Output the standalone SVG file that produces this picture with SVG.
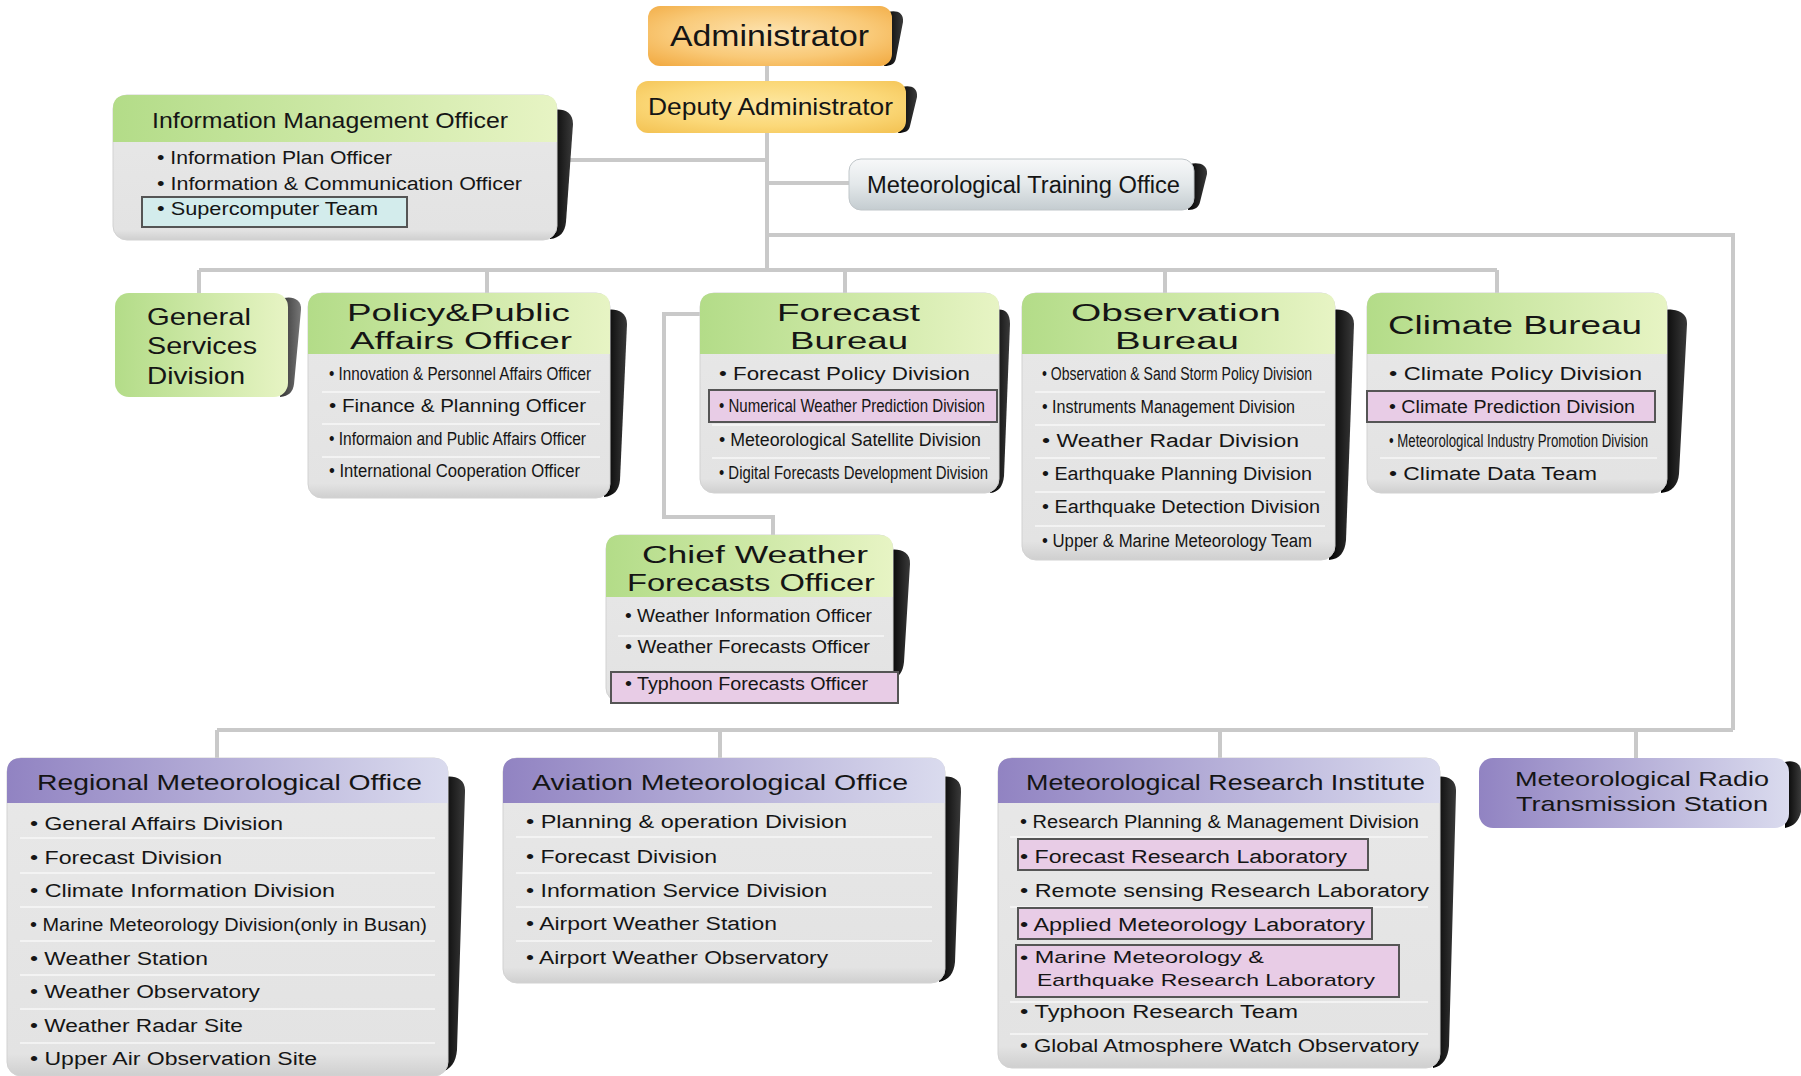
<svg xmlns="http://www.w3.org/2000/svg" width="1801" height="1076" viewBox="0 0 1801 1076">
<defs>
<linearGradient id="gh" x1="0" y1="0" x2="1" y2="0"><stop offset="0" stop-color="#b3dc88"/><stop offset="1" stop-color="#e7f4c4"/></linearGradient>
<linearGradient id="ph" x1="0" y1="0" x2="1" y2="0"><stop offset="0" stop-color="#9183c2"/><stop offset="1" stop-color="#dadbee"/></linearGradient>
<linearGradient id="bg" x1="0" y1="0" x2="0" y2="1"><stop offset="0" stop-color="#e8e8e8"/><stop offset="0.93" stop-color="#e3e3e3"/><stop offset="1" stop-color="#cfcfcf"/></linearGradient>
<radialGradient id="ag" cx="0.5" cy="0.45" r="0.7"><stop offset="0" stop-color="#fde3b0"/><stop offset="0.6" stop-color="#f9c977"/><stop offset="1" stop-color="#f2ac45"/></radialGradient>
<radialGradient id="dg" cx="0.5" cy="0.45" r="0.7"><stop offset="0" stop-color="#fde7a0"/><stop offset="0.6" stop-color="#fbd878"/><stop offset="1" stop-color="#f4c456"/></radialGradient>
<linearGradient id="tg" x1="0" y1="0" x2="0" y2="1"><stop offset="0" stop-color="#f7f8f9"/><stop offset="0.5" stop-color="#e3e8ea"/><stop offset="1" stop-color="#c4ccd0"/></linearGradient>
<linearGradient id="sg" x1="0" y1="0" x2="1" y2="0"><stop offset="0" stop-color="#000"/><stop offset="1" stop-color="#3a3a3a"/></linearGradient>
<linearGradient id="sg2" x1="0" y1="0" x2="1" y2="0"><stop offset="0" stop-color="#333"/><stop offset="1" stop-color="#777"/></linearGradient>
<style>
.ln{fill:none;stroke:#c9c9c9;stroke-width:4}
.t{font-family:"Liberation Sans",Arial,sans-serif;fill:#151515}
.it{font-size:18px}
.h{font-size:23px}
.hs{font-size:22px}
.hr{font-size:21px}
.body{fill:url(#bg);stroke:#d2d2d2;stroke-width:1}
.gh{fill:url(#gh)}
.ph{fill:url(#ph)}
.sep{stroke:#f7f7f7;stroke-width:1.5}
.hlp{fill:#e8cce6;stroke:#555;stroke-width:2}
.hlc{fill:#d3ecec;stroke:#555;stroke-width:2}
.shd{fill:url(#sg)}
</style>
</defs>

<g id="connectors">
<path class="ln" d="M767,66 V270"/>
<path class="ln" d="M559,160 H767"/>
<path class="ln" d="M767,183 H849"/>
<path class="ln" d="M767,235 H1733 V730"/>
<path class="ln" d="M199,270 H1497"/>
<path class="ln" d="M199,270 V293 M487,270 V293 M845,270 V293 M1165,270 V293 M1497,270 V293"/>
<path class="ln" d="M700,314 H664 V517 H773 V535"/>
<path class="ln" d="M217,730 H1733"/>
<path class="ln" d="M217,730 V758 M720,730 V758 M1220,730 V758 M1636,730 V758"/>
</g>

<g id="administrator">
<path class="shd" d="M888,12 C896,10 904,12 903,22 L896,58 C895,64 891,66 884,66 Z"/>
<rect x="648" y="6" width="244" height="60" rx="12" fill="url(#ag)"/>
<text class="t" x="670" y="46" font-size="30" textLength="199" lengthAdjust="spacingAndGlyphs">Administrator</text>
</g>

<g id="deputy">
<path class="shd" d="M902,87 C910,85 918,87 917,97 L910,126 C909,131 905,133 898,133 Z"/>
<rect x="636" y="81" width="270" height="52" rx="12" fill="url(#dg)"/>
<text class="t" x="648" y="115" font-size="24" textLength="245" lengthAdjust="spacingAndGlyphs">Deputy Administrator</text>
</g>

<g id="training">
<path class="shd" d="M1190,164 C1198,162 1208,164 1207,174 L1200,202 C1199,207 1195,210 1188,210 Z"/>
<rect x="849" y="159" width="345" height="51" rx="12" fill="url(#tg)" stroke="#c0c6c9" stroke-width="1"/>
<text class="t" x="867" y="193" font-size="23" textLength="313" lengthAdjust="spacingAndGlyphs">Meteorological Training Office</text>
</g>

<g id="imo">
<path class="shd" d="M553,110 C562,108 573,111 573,124 L566,222 C565,232 560,238 550,239 Z"/>
<rect class="body" x="113" y="95" width="444" height="145" rx="14"/>
<path class="gh" d="M113,142 V109 Q113,95 127,95 H543 Q557,95 557,109 V142 Z"/>
<text class="t hs" x="152" y="128" textLength="356" lengthAdjust="spacingAndGlyphs">Information Management Officer</text>
<text class="t it" x="157" y="164" textLength="235" lengthAdjust="spacingAndGlyphs">• Information Plan Officer</text>
<text class="t it" x="157" y="190" textLength="365" lengthAdjust="spacingAndGlyphs">• Information &amp; Communication Officer</text>
<rect class="hlc" x="142" y="197" width="265" height="30"/>
<text class="t it" x="157" y="215" textLength="221" lengthAdjust="spacingAndGlyphs">• Supercomputer Team</text>
</g>

<g id="general-services">
<path fill="url(#sg2)" d="M284,298 C292,296 302,299 301,310 L294,384 C293,392 289,396 280,397 Z"/>
<rect x="115" y="293" width="173" height="104" rx="14" fill="url(#gh)"/>
<text class="t" x="147" y="325" font-size="24" textLength="104" lengthAdjust="spacingAndGlyphs">General</text>
<text class="t" x="147" y="354" font-size="24" textLength="110" lengthAdjust="spacingAndGlyphs">Services</text>
<text class="t" x="147" y="384" font-size="24" textLength="98" lengthAdjust="spacingAndGlyphs">Division</text>
</g>

<g id="policy">
<path class="shd" d="M606,310 C615,308 627,311 627,324 L620,480 C619,490 614,496 604,497 Z"/>
<rect class="body" x="308" y="293" width="302" height="205" rx="14"/>
<path class="gh" d="M308,354 V307 Q308,293 322,293 H596 Q610,293 610,307 V354 Z"/>
<text class="t h" x="347" y="321" textLength="223" lengthAdjust="spacingAndGlyphs">Policy&amp;Public</text>
<text class="t h" x="350" y="349" textLength="222" lengthAdjust="spacingAndGlyphs">Affairs Officer</text>
<path class="sep" d="M322,392 H600 M322,424 H600 M322,457 H600"/>
<text class="t it" x="329" y="380" textLength="262" lengthAdjust="spacingAndGlyphs">• Innovation &amp; Personnel Affairs Officer</text>
<text class="t it" x="329" y="412" textLength="257" lengthAdjust="spacingAndGlyphs">• Finance &amp; Planning Officer</text>
<text class="t it" x="329" y="445" textLength="257" lengthAdjust="spacingAndGlyphs">• Informaion and Public Affairs Officer</text>
<text class="t it" x="329" y="477" textLength="251" lengthAdjust="spacingAndGlyphs">• International Cooperation Officer</text>
</g>

<g id="forecast">
<path class="shd" d="M995,310 C1003,308 1010,311 1010,324 L1004,476 C1003,486 999,492 990,493 Z"/>
<rect class="body" x="700" y="293" width="299" height="200" rx="14"/>
<path class="gh" d="M700,354 V307 Q700,293 714,293 H985 Q999,293 999,307 V354 Z"/>
<text class="t h" x="777" y="321" textLength="143" lengthAdjust="spacingAndGlyphs">Forecast</text>
<text class="t h" x="790" y="349" textLength="118" lengthAdjust="spacingAndGlyphs">Bureau</text>
<path class="sep" d="M712,425 H990 M712,458 H990"/>
<text class="t it" x="719" y="380" textLength="251" lengthAdjust="spacingAndGlyphs">• Forecast Policy Division</text>
<rect class="hlp" x="709" y="390" width="288" height="32"/>
<text class="t it" x="719" y="412" textLength="266" lengthAdjust="spacingAndGlyphs">• Numerical Weather Prediction Division</text>
<text class="t it" x="719" y="446" textLength="262" lengthAdjust="spacingAndGlyphs">• Meteorological Satellite Division</text>
<text class="t it" x="719" y="479" textLength="269" lengthAdjust="spacingAndGlyphs">• Digital Forecasts Development Division</text>
</g>

<g id="observation">
<path class="shd" d="M1331,310 C1341,308 1354,311 1354,324 L1346,540 C1345,552 1340,559 1329,560 Z"/>
<rect class="body" x="1022" y="293" width="313" height="267" rx="14"/>
<path class="gh" d="M1022,354 V307 Q1022,293 1036,293 H1321 Q1335,293 1335,307 V354 Z"/>
<text class="t h" x="1071" y="321" textLength="210" lengthAdjust="spacingAndGlyphs">Observation</text>
<text class="t h" x="1115" y="349" textLength="124" lengthAdjust="spacingAndGlyphs">Bureau</text>
<path class="sep" d="M1035,392 H1325 M1035,425 H1325 M1035,458 H1325 M1035,492 H1325 M1035,526 H1325"/>
<text class="t it" x="1042" y="380" textLength="270" lengthAdjust="spacingAndGlyphs">• Observation &amp; Sand Storm Policy Division</text>
<text class="t it" x="1042" y="413" textLength="253" lengthAdjust="spacingAndGlyphs">• Instruments Management Division</text>
<text class="t it" x="1042" y="447" textLength="257" lengthAdjust="spacingAndGlyphs">• Weather Radar Division</text>
<text class="t it" x="1042" y="480" textLength="270" lengthAdjust="spacingAndGlyphs">• Earthquake Planning Division</text>
<text class="t it" x="1042" y="513" textLength="278" lengthAdjust="spacingAndGlyphs">• Earthquake Detection Division</text>
<text class="t it" x="1042" y="547" textLength="270" lengthAdjust="spacingAndGlyphs">• Upper &amp; Marine Meteorology Team</text>
</g>

<g id="climate">
<path class="shd" d="M1663,310 C1673,308 1688,311 1687,324 L1679,474 C1678,485 1672,492 1661,493 Z"/>
<rect class="body" x="1367" y="293" width="300" height="200" rx="14"/>
<path class="gh" d="M1367,354 V307 Q1367,293 1381,293 H1653 Q1667,293 1667,307 V354 Z"/>
<text class="t" x="1388" y="334" font-size="25" textLength="254" lengthAdjust="spacingAndGlyphs">Climate Bureau</text>
<path class="sep" d="M1380,458 H1657"/>
<text class="t it" x="1389" y="380" textLength="253" lengthAdjust="spacingAndGlyphs">• Climate Policy Division</text>
<rect class="hlp" x="1367" y="391" width="288" height="31"/>
<text class="t it" x="1389" y="413" textLength="246" lengthAdjust="spacingAndGlyphs">• Climate Prediction Division</text>
<text class="t it" x="1389" y="447" textLength="259" lengthAdjust="spacingAndGlyphs">• Meteorological Industry Promotion Division</text>
<text class="t it" x="1389" y="480" textLength="208" lengthAdjust="spacingAndGlyphs">• Climate Data Team</text>
</g>

<g id="chief-weather">
<path class="shd" d="M889,550 C898,548 911,551 910,564 L904,662 C903,672 899,678 890,680 Z"/>
<rect class="body" x="606" y="535" width="287" height="167" rx="14"/>
<path class="gh" d="M606,597 V549 Q606,535 620,535 H879 Q893,535 893,549 V597 Z"/>
<text class="t h" x="642" y="563" textLength="226" lengthAdjust="spacingAndGlyphs">Chief Weather</text>
<text class="t h" x="627" y="591" textLength="248" lengthAdjust="spacingAndGlyphs">Forecasts Officer</text>
<path class="sep" d="M618,636 H884"/>
<text class="t it" x="625" y="622" textLength="247" lengthAdjust="spacingAndGlyphs">• Weather Information Officer</text>
<text class="t it" x="625" y="653" textLength="245" lengthAdjust="spacingAndGlyphs">• Weather Forecasts Officer</text>
<rect class="hlp" x="611" y="672" width="287" height="31"/>
<text class="t it" x="625" y="690" textLength="243" lengthAdjust="spacingAndGlyphs">• Typhoon Forecasts Officer</text>
</g>

<g id="regional">
<path class="shd" d="M444,777 C454,775 466,778 465,792 L457,1050 C456,1062 451,1070 440,1072 Z"/>
<rect class="body" x="7" y="758" width="441" height="318" rx="14"/>
<path class="ph" d="M7,803 V772 Q7,758 21,758 H434 Q448,758 448,772 V803 Z"/>
<text class="t hs" x="37" y="790" textLength="385" lengthAdjust="spacingAndGlyphs">Regional Meteorological Office</text>
<path class="sep" d="M20,838 H435 M20,873 H435 M20,907 H435 M20,941 H435 M20,975 H435 M20,1009 H435 M20,1043 H435"/>
<text class="t it" x="30" y="830" textLength="253" lengthAdjust="spacingAndGlyphs">• General Affairs Division</text>
<text class="t it" x="30" y="864" textLength="192" lengthAdjust="spacingAndGlyphs">• Forecast Division</text>
<text class="t it" x="30" y="897" textLength="305" lengthAdjust="spacingAndGlyphs">• Climate Information Division</text>
<text class="t it" x="30" y="931" textLength="397" lengthAdjust="spacingAndGlyphs">• Marine Meteorology Division(only in Busan)</text>
<text class="t it" x="30" y="965" textLength="178" lengthAdjust="spacingAndGlyphs">• Weather Station</text>
<text class="t it" x="30" y="998" textLength="230" lengthAdjust="spacingAndGlyphs">• Weather Observatory</text>
<text class="t it" x="30" y="1032" textLength="213" lengthAdjust="spacingAndGlyphs">• Weather Radar Site</text>
<text class="t it" x="30" y="1065" textLength="287" lengthAdjust="spacingAndGlyphs">• Upper Air Observation Site</text>
</g>

<g id="aviation">
<path class="shd" d="M941,777 C950,775 962,778 961,792 L955,962 C954,973 949,980 939,982 Z"/>
<rect class="body" x="503" y="758" width="442" height="225" rx="14"/>
<path class="ph" d="M503,803 V772 Q503,758 517,758 H931 Q945,758 945,772 V803 Z"/>
<text class="t hs" x="532" y="790" textLength="376" lengthAdjust="spacingAndGlyphs">Aviation Meteorological Office</text>
<path class="sep" d="M516,837 H932 M516,873 H932 M516,907 H932 M516,941 H932"/>
<text class="t it" x="526" y="828" textLength="321" lengthAdjust="spacingAndGlyphs">• Planning &amp; operation Division</text>
<text class="t it" x="526" y="863" textLength="191" lengthAdjust="spacingAndGlyphs">• Forecast Division</text>
<text class="t it" x="526" y="897" textLength="301" lengthAdjust="spacingAndGlyphs">• Information Service Division</text>
<text class="t it" x="526" y="930" textLength="251" lengthAdjust="spacingAndGlyphs">• Airport Weather Station</text>
<text class="t it" x="526" y="964" textLength="302" lengthAdjust="spacingAndGlyphs">• Airport Weather Observatory</text>
</g>

<g id="research">
<path class="shd" d="M1436,777 C1445,775 1457,778 1456,792 L1449,1046 C1448,1058 1443,1066 1433,1068 Z"/>
<rect class="body" x="998" y="758" width="442" height="310" rx="14"/>
<path class="ph" d="M998,803 V772 Q998,758 1012,758 H1426 Q1440,758 1440,772 V803 Z"/>
<text class="t hs" x="1026" y="790" textLength="399" lengthAdjust="spacingAndGlyphs">Meteorological Research Institute</text>
<path class="sep" d="M1010,837 H1428 M1010,907 H1428 M1010,1002 H1428 M1010,1034 H1428"/>
<text class="t it" x="1020" y="828" textLength="399" lengthAdjust="spacingAndGlyphs">• Research Planning &amp; Management Division</text>
<rect class="hlp" x="1018" y="839" width="350" height="31"/>
<text class="t it" x="1020" y="863" textLength="327" lengthAdjust="spacingAndGlyphs">• Forecast Research Laboratory</text>
<text class="t it" x="1020" y="897" textLength="409" lengthAdjust="spacingAndGlyphs">• Remote sensing Research Laboratory</text>
<rect class="hlp" x="1018" y="908" width="354" height="31"/>
<text class="t it" x="1020" y="931" textLength="345" lengthAdjust="spacingAndGlyphs">• Applied Meteorology Laboratory</text>
<rect class="hlp" x="1016" y="945" width="383" height="52"/>
<text class="t" x="1020" y="963" font-size="17" textLength="244" lengthAdjust="spacingAndGlyphs">• Marine Meteorology &amp;</text>
<text class="t" x="1037" y="986" font-size="17" textLength="338" lengthAdjust="spacingAndGlyphs">Earthquake Research Laboratory</text>
<text class="t it" x="1020" y="1018" textLength="278" lengthAdjust="spacingAndGlyphs">• Typhoon Research Team</text>
<text class="t it" x="1020" y="1052" textLength="399" lengthAdjust="spacingAndGlyphs">• Global Atmosphere Watch Observatory</text>
</g>

<g id="radio">
<path class="shd" d="M1785,762 C1792,760 1801,762 1801,772 L1801,812 C1799,820 1795,826 1785,828 Z"/>
<rect x="1479" y="758" width="310" height="70" rx="14" fill="url(#ph)"/>
<text class="t hr" x="1515" y="786" textLength="254" lengthAdjust="spacingAndGlyphs">Meteorological Radio</text>
<text class="t hr" x="1516" y="811" textLength="252" lengthAdjust="spacingAndGlyphs">Transmission Station</text>
</g>
</svg>
